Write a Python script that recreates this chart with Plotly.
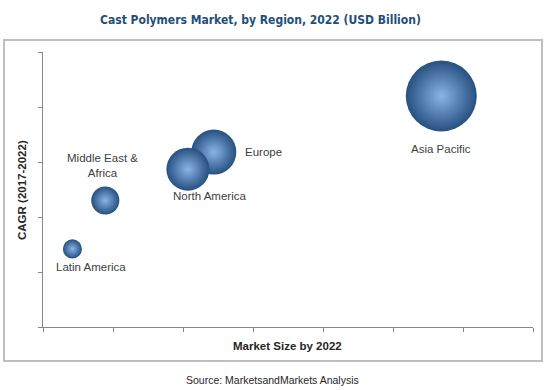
import plotly.graph_objects as go

regions = ["Asia Pacific", "Europe", "North America", "Middle East &<br>Africa", "Latin America"]
market_size = [5.69, 2.44, 2.07, 0.89, 0.42]
cagr = [4.20, 3.18, 2.87, 2.30, 1.42]
bubble_value = [5.69, 2.29, 2.09, 0.89, 0.41]

# label offsets in px (style)
label_dx = [0, 50, 22, -3, 19]
label_dy = [-53, 0, -27, 35, -18]

max_diam = 71
sizeref = 2 * max(bubble_value) / (max_diam ** 2)

fig = go.Figure()
fig.add_trace(go.Scatter(
    x=market_size, y=cagr, mode="markers",
    marker=dict(size=bubble_value, sizemode="area", sizeref=sizeref,
                color="#26507f", line=dict(width=0),
                gradient=dict(type="radial", color="#8ab3e8"),
                opacity=1),
    hoverinfo="skip", showlegend=False,
))

for name, x, y, dx, dy in zip(regions, market_size, cagr, label_dx, label_dy):
    fig.add_annotation(x=x, y=y, xref="x", yref="y", text=name, showarrow=False,
                       xshift=dx, yshift=dy,
                       font=dict(family="Liberation Sans, Arial", size=11.5, color="#404040"))

axis_style = dict(showgrid=False, zeroline=False, showline=True, linecolor="#868686", linewidth=1,
                  ticks="outside", ticklen=4, tickcolor="#868686", tickwidth=1,
                  showticklabels=False, dtick=1, tick0=0, fixedrange=True)

fig.update_xaxes(range=[0, 7], **axis_style)
fig.update_yaxes(range=[0, 5], **axis_style)

# outer frame
fig.add_shape(type="rect", xref="paper", yref="paper",
              x0=(4 - 43) / 490, x1=(542 - 43) / 490,
              y0=(327 - 361) / 275, y1=(327 - 40) / 275,
              line=dict(color="#bfbfbf", width=2), layer="below")

fig.add_annotation(text="Cast Polymers Market, by Region, 2022 (USD Billion)",
                   xref="paper", yref="paper", x=(260 - 43) / 490, y=(327 - 20) / 275,
                   showarrow=False, xanchor="center", yanchor="middle",
                   font=dict(family="DejaVu Sans Condensed, DejaVu Sans, Arial", size=12, color="#1F4E79", weight="bold"))
fig.add_annotation(text="CAGR (2017-2022)", xref="paper", yref="paper",
                   x=(22 - 43) / 490, y=(327 - 190) / 275, textangle=-90,
                   showarrow=False, xanchor="center", yanchor="middle",
                   font=dict(family="Liberation Sans, Arial", size=11.5, color="#262626", weight="bold"))
fig.add_annotation(text="Market Size by 2022", xref="paper", yref="paper",
                   x=(287 - 43) / 490, y=(327 - 346) / 275,
                   showarrow=False, xanchor="center", yanchor="middle",
                   font=dict(family="Liberation Sans, Arial", size=11.5, color="#262626", weight="bold"))
fig.add_annotation(text="Source: MarketsandMarkets Analysis", xref="paper", yref="paper",
                   x=(272 - 43) / 490, y=(327 - 380) / 275,
                   showarrow=False, xanchor="center", yanchor="middle",
                   font=dict(family="Liberation Sans, Arial", size=10.5, color="#262626"))

fig.update_layout(width=549, height=390, margin=dict(l=43, r=16, t=52, b=63, pad=0),
                  plot_bgcolor="white", paper_bgcolor="white", showlegend=False)

fig.write_html("out.html", config={"displayModeBar": False},
               post_script="document.body.style.margin='0px';document.body.style.overflow='hidden';")
